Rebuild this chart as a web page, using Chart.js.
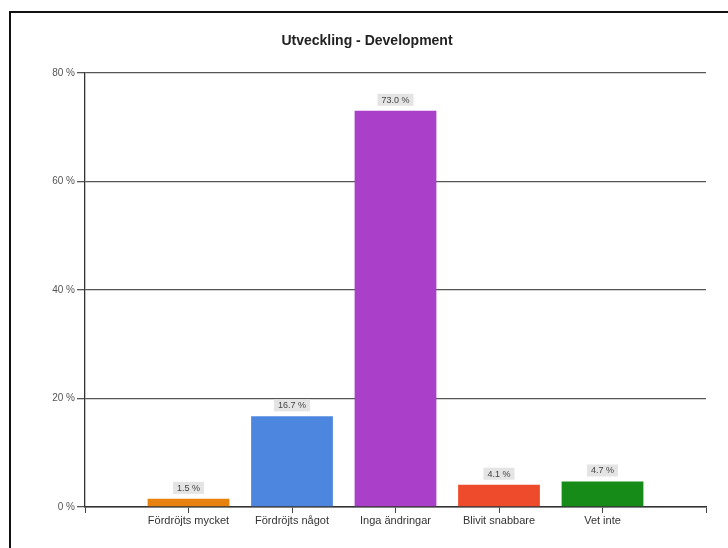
<!DOCTYPE html>
<html>
<head>
<meta charset="utf-8">
<script src="https://cdn.jsdelivr.net/npm/chart.js@4"></script>
<style>
  html, body { margin: 0; padding: 0; background: #fff; overflow: hidden; }
  #wrap { position: relative; width: 728px; height: 548px; }
  #frame { position: absolute; left: 9px; top: 11px; width: 760px; height: 600px;
           border-left: 2px solid #111; border-top: 2px solid #111; pointer-events: none; }
</style>
</head>
<body>
<div id="wrap">
  <canvas id="chart" width="728" height="548"></canvas>
  <div id="frame"></div>
</div>
<script>
// data
const categories = ['Fördröjts mycket', 'Fördröjts något', 'Inga ändringar', 'Blivit snabbare', 'Vet inte'];
const values = [1.5, 16.7, 73.0, 4.1, 4.7];
const barColors = ['#e8820e', '#4d86df', '#aa3fc9', '#ee4a2c', '#178b17'];
const yTicks = [0, 20, 40, 60, 80];

// empty slot on each side, like the original axis
const labels = [''].concat(categories, ['']);
const padded = [null].concat(values, [null]);
const colors = ['#fff'].concat(barColors, ['#fff']);

const fontFam = '"Liberation Sans", Arial, sans-serif';

// value boxes above bars
const valueLabels = {
  id: 'valueLabels',
  afterDatasetsDraw(chart) {
    const c = chart.ctx;
    const meta = chart.getDatasetMeta(0);
    c.save();
    c.font = '9px ' + fontFam;
    c.textAlign = 'center';
    c.textBaseline = 'middle';
    meta.data.forEach((bar, i) => {
      const v = padded[i];
      if (v == null) return;
      const txt = v.toFixed(1) + ' %';
      const w = c.measureText(txt).width + 8;
      const cy = bar.y - 11;
      c.fillStyle = '#e4e4e4';
      c.fillRect(bar.x - w / 2, cy - 6, w, 12);
      c.fillStyle = '#444';
      c.fillText(txt, bar.x, cy + 0.5);
    });
    c.restore();
  }
};

new Chart(document.getElementById('chart'), {
  type: 'bar',
  data: {
    labels: labels,
    datasets: [{
      data: padded,
      backgroundColor: colors,
      categoryPercentage: 1,
      barPercentage: 0.79
    }]
  },
  options: {
    responsive: false,
    animation: false,
    layout: { padding: { left: 28, right: 22, top: 0, bottom: 0 } },
    plugins: {
      legend: { display: false },
      tooltip: { enabled: false },
      title: {
        display: true,
        text: 'Utveckling - Development',
        color: '#222',
        font: { family: fontFam, size: 14, weight: 'bold' },
        padding: { top: 33, bottom: 23 }
      }
    },
    scales: {
      x: {
        offset: false,
        grid: { offset: false, drawOnChartArea: false, drawTicks: true, tickLength: 6, color: '#444' },
        border: { display: true, color: '#333', width: 1.5 },
        ticks: { color: '#333', font: { family: fontFam, size: 11 }, padding: 1, maxRotation: 0, autoSkip: false },
        afterFit(s) { s.height = 41; }
      },
      y: {
        min: 0,
        max: 80,
        afterBuildTicks(s) { s.ticks = yTicks.map(v => ({ value: v })); },
        grid: { color: '#555', lineWidth: 1.3, tickLength: 8 },
        border: { display: true, color: '#333', width: 1.3 },
        ticks: {
          color: '#555',
          font: { family: fontFam, size: 10 },
          padding: 2,
          callback: v => v + ' %'
        },
        afterFit(s) { s.width = 57; }
      }
    }
  },
  plugins: [valueLabels]
});
</script>
</body>
</html>
